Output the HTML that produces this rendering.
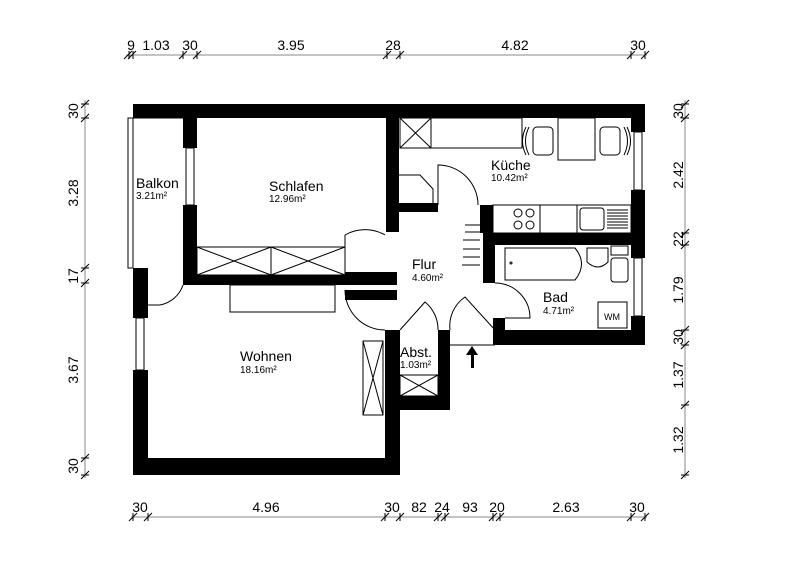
<!DOCTYPE html>
<html><head><meta charset="utf-8"><style>
html,body{margin:0;padding:0;background:#fff;}
svg{display:block;}
text{font-family:"Liberation Sans",Arial,sans-serif;fill:#000;}
.d{font-size:14px;}
.n{font-size:14px;}
.a{font-size:10px;}
</style></head><body>
<svg width="795" height="588" viewBox="0 0 795 588" xmlns="http://www.w3.org/2000/svg">
<g fill="#000">
<rect x="133" y="104" width="512" height="14"/>
<rect x="631" y="104" width="14" height="28"/>
<rect x="631" y="190" width="14" height="68"/>
<rect x="631" y="316" width="14" height="29"/>
<rect x="483" y="233" width="162" height="12"/>
<rect x="495" y="330" width="150" height="15"/>
<rect x="493" y="318" width="12" height="27"/>
<rect x="480" y="205" width="13" height="28"/>
<rect x="483" y="245" width="12" height="38"/>
<rect x="183" y="118" width="14" height="30"/>
<rect x="183" y="205" width="14" height="80"/>
<rect x="183" y="275" width="162" height="10"/>
<rect x="345" y="272" width="52" height="13"/>
<rect x="345" y="290" width="52" height="10"/>
<rect x="386" y="118" width="13" height="114"/>
<rect x="399" y="203" width="39" height="9"/>
<rect x="133" y="268" width="15" height="18"/>
<rect x="133" y="286" width="15" height="32"/>
<rect x="133" y="370" width="15" height="105"/>
<rect x="133" y="458" width="267" height="17"/>
<rect x="385" y="330" width="15" height="145"/>
<rect x="385" y="396" width="65" height="14"/>
<rect x="438" y="330" width="12" height="80"/>
</g>
<g fill="none" stroke="#000" stroke-width="1">
<rect x="128" y="118" width="5" height="150"/>
<line x1="128" y1="118" x2="183" y2="118"/>
<rect x="186" y="148" width="8" height="57"/>
<rect x="136" y="318" width="8" height="52"/>
<rect x="634" y="132" width="8" height="58"/>
<rect x="634" y="258" width="8" height="58"/>
<rect x="197" y="247" width="148" height="28"/>
<line x1="271" y1="247" x2="271" y2="275"/>
<path d="M197 247L271 275M271 247L197 275M271 247L345 275M345 247L271 275"/>
<rect x="230" y="285" width="105" height="27"/>
<rect x="363" y="341" width="20" height="74"/>
<path d="M363 341L383 415M383 341L363 415"/>
<rect x="400" y="375" width="38" height="21"/>
<path d="M400 375L438 396M438 375L400 396"/>
<rect x="400" y="118" width="31" height="30"/>
<path d="M400 118L431 148M431 118L400 148"/>
<rect x="431" y="118" width="91" height="30"/>
<rect x="558" y="118" width="37" height="42"/>
<rect x="533" y="127" width="20" height="28" rx="4"/>
<rect x="600" y="127" width="20" height="28" rx="4"/>
<path d="M529 127Q522 141 529 155M526 127Q519 141 526 155"/>
<path d="M624 127Q631 141 624 155M627 127Q634 141 627 155"/>
<path d="M399 175L420 175L433 189L433 203"/>
<rect x="493" y="205" width="138" height="28"/>
<line x1="540" y1="205" x2="540" y2="233"/>
<line x1="577" y1="205" x2="577" y2="233"/>
<circle cx="518" cy="213" r="4"/><circle cx="530" cy="213" r="4"/>
<circle cx="518" cy="225" r="4"/><circle cx="530" cy="225" r="4"/>
<rect x="580" y="208" width="24" height="22" rx="3"/>
<path d="M607 210H628M607 213H628M607 216H628M607 219H628M607 222H628M607 225H628M607 228H628"/>
<path d="M505 248H575Q588 264 575 280H505Z"/>
<circle cx="511" cy="263" r="1"/>
<path d="M587 248H608V262Q598 272 587 262Z"/>
<rect x="611" y="246" width="17" height="9"/>
<rect x="611" y="258" width="17" height="24" rx="3"/>
<rect x="598" y="302" width="29" height="26"/>
<path d="M465 225H480M465 232H480M463 240H480M463 249H480M463 257H480M462 265H480"/>
<path d="M345 272V235A40 40 0 0 1 385 235"/>
<path d="M148 305H160A30 30 0 0 0 183 285"/>
<path d="M438 205V165A40 40 0 0 1 478 205"/>
<path d="M495 283A35 35 0 0 1 530 318H505"/>
<path d="M345 290A40 40 0 0 0 385 330"/>
<path d="M400 330L425 302A35 35 0 0 1 438 330"/>
<path d="M450 330A35 35 0 0 1 465 297L495 330"/>
<line x1="450" y1="345" x2="495" y2="345"/>
</g>
<path d="M471 368V355H466L472 346L478 355H474V368Z" fill="#000"/>
<g stroke="#888" stroke-width="1" fill="none">
<line x1="126" y1="55" x2="647" y2="55"/>
<line x1="131" y1="517" x2="647" y2="517"/>
<line x1="85" y1="100" x2="85" y2="478"/>
<line x1="685" y1="100" x2="685" y2="478"/>
</g>
<g stroke="#000" stroke-width="1">
<path d="M124 59l8-8M128 59l8-8M129 51v8M133 51v8M179 59l8-8M183 51v8M193 59l8-8M197 51v8M383 59l8-8M387 51v8M396 59l8-8M400 51v8M627 59l8-8M631 51v8M641 59l8-8M645 51v8"/>
<path d="M129 521l8-8M133 513v8M144 521l8-8M148 513v8M381 521l8-8M385 513v8M396 521l8-8M400 513v8M434 521l8-8M438 513v8M441 521l8-8M445 513v8M489 521l8-8M493 513v8M496 521l8-8M500 513v8M627 521l8-8M631 513v8M641 521l8-8M645 513v8"/>
<path d="M81 108l8-8M81 104h8M81 122l8-8M81 118h8M81 272l8-8M81 268h8M81 287l8-8M81 283h8M81 462l8-8M81 458h8M81 479l8-8M81 475h8"/>
<path d="M681 108l8-8M681 104h8M681 122l8-8M681 118h8M681 237l8-8M681 233h8M681 249l8-8M681 245h8M681 334l8-8M681 330h8M681 349l8-8M681 345h8M681 409l8-8M681 405h8M681 479l8-8M681 475h8"/>
</g>
<g class="d" text-anchor="middle">
<text x="131" y="50">9</text><text x="156" y="50">1.03</text><text x="190" y="50">30</text>
<text x="291" y="50">3.95</text><text x="393" y="50">28</text><text x="515" y="50">4.82</text><text x="638" y="50">30</text>
<text x="140" y="512">30</text><text x="266" y="512">4.96</text><text x="392" y="512">30</text>
<text x="419" y="512">82</text><text x="442" y="512">24</text><text x="470" y="512">93</text>
<text x="497" y="512">20</text><text x="566" y="512">2.63</text><text x="637" y="512">30</text>
<text transform="translate(78,111) rotate(-90)">30</text>
<text transform="translate(78,193) rotate(-90)">3.28</text>
<text transform="translate(78,276) rotate(-90)">17</text>
<text transform="translate(78,370) rotate(-90)">3.67</text>
<text transform="translate(78,466) rotate(-90)">30</text>
<text transform="translate(683,111) rotate(-90)">30</text>
<text transform="translate(683,175) rotate(-90)">2.42</text>
<text transform="translate(683,239) rotate(-90)">22</text>
<text transform="translate(683,290) rotate(-90)">1.79</text>
<text transform="translate(683,337) rotate(-90)">30</text>
<text transform="translate(683,375) rotate(-90)">1.37</text>
<text transform="translate(683,440) rotate(-90)">1.32</text>
</g>
<text class="n" x="136" y="188">Balkon</text><text class="a" x="136" y="199">3.21m²</text>
<text class="n" x="269" y="191">Schlafen</text><text class="a" x="269" y="202">12.96m²</text>
<text class="n" x="491" y="170">Küche</text><text class="a" x="491" y="181">10.42m²</text>
<text class="n" x="412" y="269">Flur</text><text class="a" x="412" y="281">4.60m²</text>
<text class="n" x="543" y="302">Bad</text><text class="a" x="543" y="314">4.71m²</text>
<text class="n" x="240" y="361">Wohnen</text><text class="a" x="240" y="373">18.16m²</text>
<text class="n" x="400" y="357">Abst.</text><text class="a" x="400" y="368">1.03m²</text>
<text x="612" y="320" font-size="9" text-anchor="middle">WM</text>
</svg>
</body></html>
